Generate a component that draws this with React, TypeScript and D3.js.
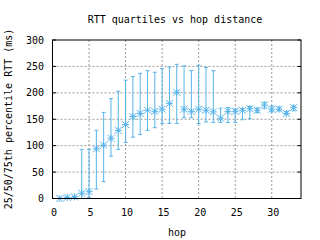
import React from "react";
import * as d3 from "d3";

const hops = [1,2,3,4,5,6,7,8,9,10,11,12,13,14,15,16,17,18,19,20,21,22,23,24,25,26,27,28,29,30,31,32,33];
const median = [0,2,3,10,13,94,101,114,129,140,155,161,167,165,169,180,201,169,165,169,167,164,152,165,165,167,170,167,177,169,169,161,172];
const q1 = [0,1,2,0,2,18,32,80,93,106,116,121,129,134,142,142,142,153,153,142,145,144,144,144,144,149,151,163,170,164,166,159,166];
const q3 = [1,3,4,93,93,129,163,189,203,224,231,237,242,239,246,249,254,251,242,252,248,242,171,172,169,170,174,171,182,175,173,165,175];
const xTicks = [0,5,10,15,20,25,30];
const yTicks = [0,50,100,150,200,250,300];

const W = 320, H = 240;
const left = 52.5, right = 301, top = 40, bottom = 198.5;
const color = "#56b4e9";
const font = "'DejaVu Sans Mono', monospace";

export default function App() {
  const x = d3.scaleLinear().domain([0, 34]).range([left, right]);
  const y = d3.scaleLinear().domain([0, 300]).range([bottom, top]);
  const tk = 3.5;
  const ms = 3.5;
  return (
    <svg width={W} height={H} style={{ position: "absolute", left: 0, top: 0, background: "#fff" }}>
      <rect x={0} y={0} width={W} height={H} fill="#fff" />
      {/* grid */}
      {xTicks.filter(t => t > 0).map(t => (
        <line key={"gx" + t} x1={x(t)} x2={x(t)} y1={top} y2={bottom} stroke="#999" strokeDasharray="2,2" />
      ))}
      {yTicks.filter(t => t > 0 && t < 300).map(t => (
        <line key={"gy" + t} x1={left} x2={right} y1={y(t)} y2={y(t)} stroke="#999" strokeDasharray="2,2" />
      ))}
      {/* tick labels */}
      {xTicks.map(t => (
        <text key={"tx" + t} x={x(t) + 1.5} y={216} textAnchor="middle" fontFamily={font} fontSize={10}>{t}</text>
      ))}
      {yTicks.map(t => (
        <g key={"ty" + t}>
          <line x1={left} x2={left + tk} y1={y(t)} y2={y(t)} stroke="#000" />
          <line x1={right} x2={right - tk} y1={y(t)} y2={y(t)} stroke="#000" />
          <text x={44} y={y(t) + 3.5} textAnchor="end" fontFamily={font} fontSize={10}>{t}</text>
        </g>
      ))}
      {/* error bars */}
      {hops.map((h, i) => (
        <g key={"e" + h} stroke={color} strokeWidth={1}>
          <line x1={x(h)} x2={x(h)} y1={y(q1[i])} y2={y(q3[i])} />
          <line x1={x(h) - 2} x2={x(h) + 2} y1={y(q1[i])} y2={y(q1[i])} />
          <line x1={x(h) - 2} x2={x(h) + 2} y1={y(q3[i])} y2={y(q3[i])} />
        </g>
      ))}
      {/* markers */}
      {hops.map((h, i) => {
        const cx = x(h), cy = y(median[i]);
        return (
          <g key={"m" + h} stroke={color} strokeWidth={1}>
            <line x1={cx - ms} x2={cx + ms} y1={cy} y2={cy} />
            <line x1={cx} x2={cx} y1={cy - ms} y2={cy + ms} />
            <line x1={cx - ms} x2={cx + ms} y1={cy - ms} y2={cy + ms} />
            <line x1={cx - ms} x2={cx + ms} y1={cy + ms} y2={cy - ms} />
          </g>
        );
      })}
      <rect x={left} y={top} width={right - left} height={bottom - top} fill="none" stroke="#000" />
      <text x={175} y={23} textAnchor="middle" fontFamily={font} fontSize={10}>RTT quartiles vs hop distance</text>
      <text x={177} y={236} textAnchor="middle" fontFamily={font} fontSize={10}>hop</text>
      <text transform={`translate(12,119) rotate(-90)`} textAnchor="middle" fontFamily={font} fontSize={10}>25/50/75th percentile RTT (ms)</text>
    </svg>
  );
}
